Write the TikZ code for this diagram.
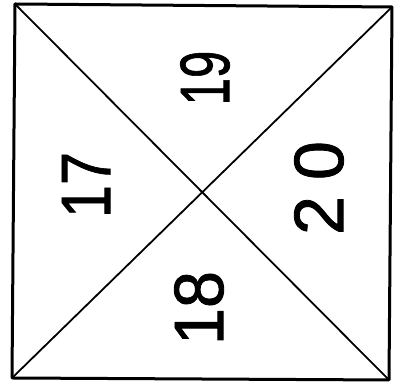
\documentclass[tikz,border=0pt]{standalone}
\usepackage{fontspec}
\usepackage{graphicx}
\setmainfont{Liberation Sans}
\newfontfamily\numfont[FakeBold=1.2]{Liberation Sans}
\tikzset{
  frame/.style={line width=3pt, line join=round},
  diag/.style={line width=1.8pt},
  num/.style={inner sep=0pt, font=\numfont\fontsize{70}{70}\selectfont}
}
\begin{document}
\begin{tikzpicture}[x=1pt,y=1pt]
\useasboundingbox (0,0) rectangle (400,390);
\coordinate (TL) at (15,386);
\coordinate (TR) at (392,383);
\coordinate (BR) at (389,10);
\coordinate (BL) at (12,12);
\draw[frame] (TL) -- (TR) -- (BR) -- (BL) -- cycle;
\draw[diag] (TL) -- (BR);
\draw[diag] (BL) -- (TR);
\node[num] (n19) at (205,312) {\rotatebox{90}{\scalebox{0.7}[1]{19}}};
\node[num] (n20) at (319,202) {\rotatebox{90}{2\kern16pt0}};
\node[num] (n17) at (86,205) {\rotatebox{90}{\scalebox{0.85}[1]{17}}};
\node[num] (n18) at (199,82) {\rotatebox{90}{\scalebox{0.95}[1]{18}}};
\end{tikzpicture}
\end{document}
